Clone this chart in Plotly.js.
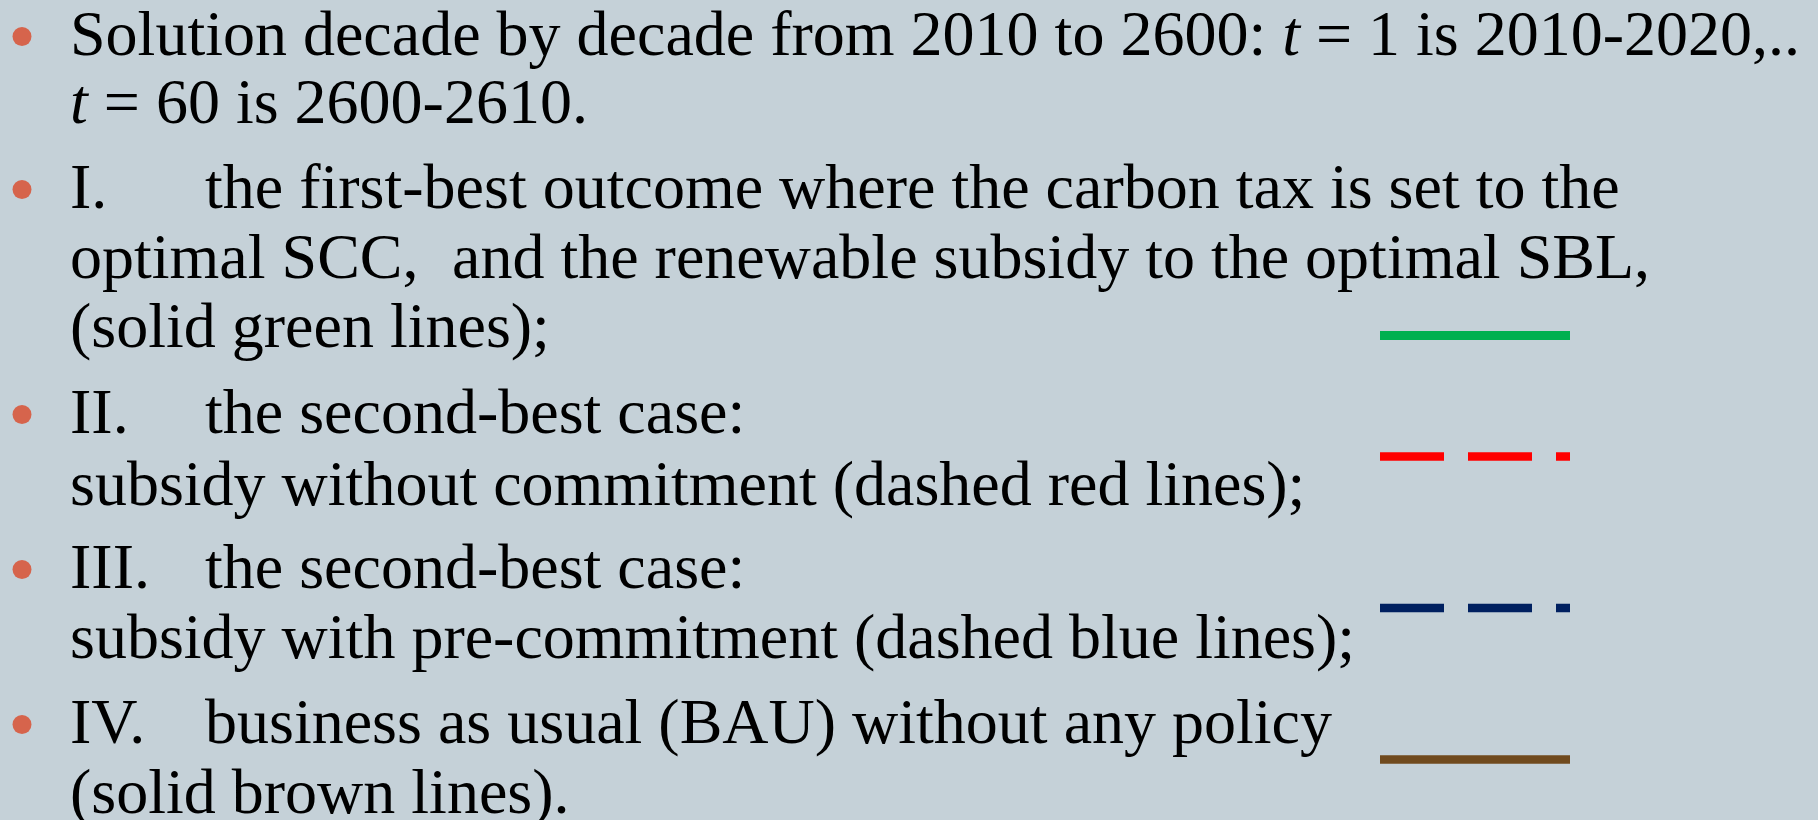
<!DOCTYPE html>
<html><head><meta charset="utf-8">
<script src="https://cdn.plot.ly/plotly-3.0.1.min.js"></script>
<style>html,body{margin:0;padding:0;background:#C5D1D8;overflow:hidden}</style>
</head><body><div id="chart" style="width:1818px;height:820px"></div>
<script>
// ---------- content (data) ----------
const introLines = [
  "Solution decade by decade from 2010 to 2600: <i>t</i> = 1 is 2010-2020,..",
  "<i>t</i> = 60 is 2600-2610."
];
const caseNumerals = ["I.", "II.", "III.", "IV."];
const caseHeads = [
  "the first-best outcome where the carbon tax is set to the",
  "the second-best case:",
  "the second-best case:",
  "business as usual (BAU) without any policy"
];
const caseBodyI = ["optimal SCC,", "and the renewable subsidy to the optimal SBL,", "(solid green lines);"];
const caseBodyII = ["subsidy without commitment (dashed red lines);"];
const caseBodyIII = ["subsidy with pre-commitment (dashed blue lines);"];
const caseBodyIV = ["(solid brown lines)."];
const sampleNames = ["I. first-best", "II. second-best, no commitment", "III. second-best, pre-commitment", "IV. BAU"];

// ---------- layout / style config ----------
const W = 1818, H = 820;
const FS = 64;
const FONT = {family: "'Liberation Serif', 'DejaVu Serif', serif", size: FS, color: "#000000"};
const BG = "#C5D1D8";
const X_TEXT = 69, X_TAB = 204, X_SCC2 = 451, X_BULLET = 22;
const BASE = {intro1: 55, intro2: 123, i1: 208, i2: 278, i3: 347, ii1: 433, ii2: 505, iii1: 588, iii2: 658, iv1: 743, iv2: 813};
const MID_OFF = 21.6;   // baseline -> annotation middle
const BULLET_OFF = 18.5;
const SAMPLE_X0 = 1380, SAMPLE_X1 = 1570;
const sampleY = [335.5, 456.5, 608, 759.5];
const sampleColors = ["#00B050", "#FF0000", "#002060", "#704A1E"];
const sampleDash = ["solid", "64px,24px", "64px,24px", "solid"];
const sampleWidth = [9, 8.5, 8.5, 8.7];

// ---------- build ----------
const annotations = [];
function addText(txt, x, base) {
  annotations.push({text: txt, x: x, y: base - MID_OFF, xref: "x", yref: "y",
    xanchor: "left", yanchor: "middle", showarrow: false, font: FONT, borderpad: 0});
}
addText(introLines[0], X_TEXT, BASE.intro1);
addText(introLines[1], X_TEXT, BASE.intro2);
const headBases = [BASE.i1, BASE.ii1, BASE.iii1, BASE.iv1];
caseNumerals.forEach((n, i) => { addText(n, X_TEXT, headBases[i]); addText(caseHeads[i], X_TAB, headBases[i]); });
addText(caseBodyI[0], X_TEXT, BASE.i2);
addText(caseBodyI[1], X_SCC2, BASE.i2);
addText(caseBodyI[2], X_TEXT, BASE.i3);
addText(caseBodyII[0], X_TEXT, BASE.ii2);
addText(caseBodyIII[0], X_TEXT, BASE.iii2);
addText(caseBodyIV[0], X_TEXT, BASE.iv2);

const bulletBases = [BASE.intro1, BASE.i1, BASE.ii1, BASE.iii1, BASE.iv1];
const traces = [{
  type: "scatter", mode: "markers", hoverinfo: "skip", showlegend: false,
  x: bulletBases.map(() => X_BULLET), y: bulletBases.map(b => b - BULLET_OFF),
  marker: {size: 19, color: "#D6644C", line: {width: 0}}
}];
sampleNames.forEach((name, i) => {
  traces.push({type: "scatter", mode: "lines", name: name, hoverinfo: "skip", showlegend: false,
    x: [SAMPLE_X0, SAMPLE_X1], y: [sampleY[i], sampleY[i]],
    line: {color: sampleColors[i], width: sampleWidth[i], dash: sampleDash[i]}});
});

const layout = {
  width: W, height: H, margin: {l: 0, r: 0, t: 0, b: 0, pad: 0},
  paper_bgcolor: BG, plot_bgcolor: BG, showlegend: false,
  xaxis: {range: [0, W], visible: false, fixedrange: true},
  yaxis: {range: [H, 0], visible: false, fixedrange: true},
  annotations: annotations
};
Plotly.newPlot("chart", traces, layout, {displayModeBar: false, staticPlot: true});
</script></body></html>
